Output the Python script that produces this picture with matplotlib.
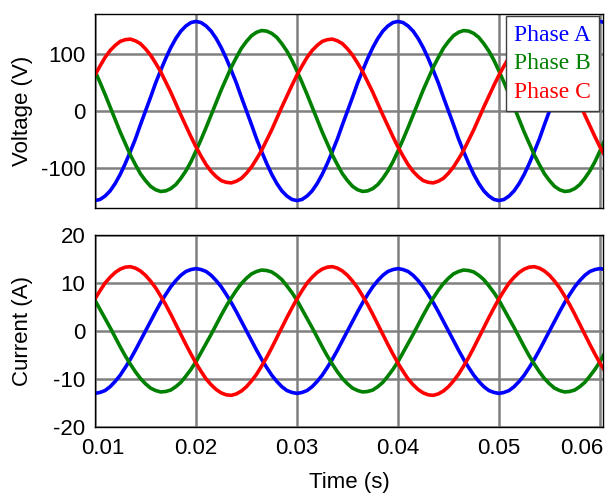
import matplotlib as mpl
mpl.use("Agg")
import matplotlib.pyplot as plt
import matplotlib.transforms as mtransforms

mpl.rcParams["font.family"] = ["Liberation Sans", "DejaVu Sans"]
mpl.rcParams["axes.unicode_minus"] = False

# time axis (s), one sample every 0.5 ms
t = [round(0.010 + 0.0005 * k, 4) for k in range(102)]

# phase voltages (V)
va = [-157, -155, -149, -140, -127, -111, -92, -71, -49, -24, 0, 24, 49, 71, 92, 111, 127, 140, 149, 155,
      157, 155, 149, 140, 127, 111, 92, 71, 49, 24, 0, -24, -49, -71, -92, -111, -127, -140, -149, -155,
      -157, -155, -149, -140, -127, -111, -92, -71, -49, -24, 0, 24, 49, 71, 92, 111, 127, 140, 149, 155,
      157, 155, 149, 140, 127, 111, 92, 71, 49, 24, 0, -24, -49, -71, -92, -111, -127, -140, -149, -155,
      -157, -155, -149, -140, -127, -111, -92, -71, -49, -24, 0, 24, 49, 71, 92, 111, 127, 140, 149, 155,
      157, 155]
vb = [70, 50, 29, 7, -15, -37, -57, -77, -94, -110, -122, -132, -138, -141, -140, -136, -129, -118, -105, -89,
      -70, -50, -29, -7, 15, 37, 57, 77, 94, 110, 122, 132, 138, 141, 140, 136, 129, 118, 105, 89,
      70, 50, 29, 7, -15, -37, -57, -77, -94, -110, -122, -132, -138, -141, -140, -136, -129, -118, -105, -89,
      -70, -50, -29, -7, 15, 37, 57, 77, 94, 110, 122, 132, 138, 141, 140, 136, 129, 118, 105, 89,
      70, 50, 29, 7, -15, -37, -57, -77, -94, -110, -122, -132, -138, -141, -140, -136, -129, -118, -105, -89,
      -70, -50]
vc = [63, 79, 94, 106, 115, 122, 125, 126, 123, 118, 109, 98, 84, 69, 51, 33, 13, -7, -26, -45,
      -63, -79, -94, -106, -115, -122, -125, -126, -123, -118, -109, -98, -84, -69, -51, -33, -13, 7, 26, 45,
      63, 79, 94, 106, 115, 122, 125, 126, 123, 118, 109, 98, 84, 69, 51, 33, 13, -7, -26, -45,
      -63, -79, -94, -106, -115, -122, -125, -126, -123, -118, -109, -98, -84, -69, -51, -33, -13, 7, 26, 45,
      63, 79, 94, 106, 115, 122, 125, 126, 123, 118, 109, 98, 84, 69, 51, 33, 13, -7, -26, -45,
      -63, -79]

# phase currents (A)
ia = [-13, -12.8, -12.4, -11.6, -10.5, -9.2, -7.6, -5.9, -4.0, -2.0, 0, 2.0, 4.0, 5.9, 7.6, 9.2, 10.5, 11.6, 12.4, 12.8,
      13, 12.8, 12.4, 11.6, 10.5, 9.2, 7.6, 5.9, 4.0, 2.0, 0, -2.0, -4.0, -5.9, -7.6, -9.2, -10.5, -11.6, -12.4, -12.8,
      -13, -12.8, -12.4, -11.6, -10.5, -9.2, -7.6, -5.9, -4.0, -2.0, 0, 2.0, 4.0, 5.9, 7.6, 9.2, 10.5, 11.6, 12.4, 12.8,
      13, 12.8, 12.4, 11.6, 10.5, 9.2, 7.6, 5.9, 4.0, 2.0, 0, -2.0, -4.0, -5.9, -7.6, -9.2, -10.5, -11.6, -12.4, -12.8,
      -13, -12.8, -12.4, -11.6, -10.5, -9.2, -7.6, -5.9, -4.0, -2.0, 0, 2.0, 4.0, 5.9, 7.6, 9.2, 10.5, 11.6, 12.4, 12.8,
      13, 12.8]
ib = [6.4, 4.5, 2.6, 0.7, -1.3, -3.3, -5.2, -6.9, -8.5, -9.9, -11.0, -11.9, -12.4, -12.7, -12.6, -12.3, -11.6, -10.7, -9.4, -8.0,
      -6.4, -4.5, -2.6, -0.7, 1.3, 3.3, 5.2, 6.9, 8.5, 9.9, 11.0, 11.9, 12.4, 12.7, 12.6, 12.3, 11.6, 10.7, 9.4, 8.0,
      6.4, 4.5, 2.6, 0.7, -1.3, -3.3, -5.2, -6.9, -8.5, -9.9, -11.0, -11.9, -12.4, -12.7, -12.6, -12.3, -11.6, -10.7, -9.4, -8.0,
      -6.4, -4.5, -2.6, -0.7, 1.3, 3.3, 5.2, 6.9, 8.5, 9.9, 11.0, 11.9, 12.4, 12.7, 12.6, 12.3, 11.6, 10.7, 9.4, 8.0,
      6.4, 4.5, 2.6, 0.7, -1.3, -3.3, -5.2, -6.9, -8.5, -9.9, -11.0, -11.9, -12.4, -12.7, -12.6, -12.3, -11.6, -10.7, -9.4, -8.0,
      -6.4, -4.5]
ic = [6.7, 8.4, 10.0, 11.2, 12.2, 12.9, 13.3, 13.4, 13.1, 12.5, 11.6, 10.4, 9.0, 7.3, 5.5, 3.5, 1.4, -0.7, -2.8, -4.8,
      -6.7, -8.4, -10.0, -11.2, -12.2, -12.9, -13.3, -13.4, -13.1, -12.5, -11.6, -10.4, -9.0, -7.3, -5.5, -3.5, -1.4, 0.7, 2.8, 4.8,
      6.7, 8.4, 10.0, 11.2, 12.2, 12.9, 13.3, 13.4, 13.1, 12.5, 11.6, 10.4, 9.0, 7.3, 5.5, 3.5, 1.4, -0.7, -2.8, -4.8,
      -6.7, -8.4, -10.0, -11.2, -12.2, -12.9, -13.3, -13.4, -13.1, -12.5, -11.6, -10.4, -9.0, -7.3, -5.5, -3.5, -1.4, 0.7, 2.8, 4.8,
      6.7, 8.4, 10.0, 11.2, 12.2, 12.9, 13.3, 13.4, 13.1, 12.5, 11.6, 10.4, 9.0, 7.3, 5.5, 3.5, 1.4, -0.7, -2.8, -4.8,
      -6.7, -8.4]

phase_names = ["Phase A", "Phase B", "Phase C"]
colors = ["#0000ff", "#008000", "#ff0000"]
xticks = [0.01, 0.02, 0.03, 0.04, 0.05, 0.06]
xticklabels = ["0.01", "0.02", "0.03", "0.04", "0.05", "0.06"]

fig = plt.figure(figsize=(6.11, 4.96), dpi=100)
W, H = 611, 496
ax1 = fig.add_axes([95 / W, 1 - 208 / H, 508 / W, 194 / H])
ax2 = fig.add_axes([95 / W, 1 - 427 / H, 508 / W, 192 / H])

FS = 16
for ax, series, ylim, yticks, ylab in [
        (ax1, [va, vb, vc], (-170, 170), [-100, 0, 100], "Voltage (V)"),
        (ax2, [ia, ib, ic], (-20, 20), [-20, -10, 0, 10, 20], "Current (A)")]:
    for y, c, name in zip(series, colors, phase_names):
        ax.plot(t, y, color=c, lw=2.6, label=name)
    ax.set_xlim(0.01, 0.0603)
    ax.set_ylim(*ylim)
    ax.set_yticks(yticks)
    ax.set_xticks(xticks)
    ax.grid(True, color="#808080", lw=1.8)
    ax.set_axisbelow(True)
    ax.tick_params(length=0, labelsize=FS, pad=7)
    ax.set_ylabel(ylab, fontsize=FS)
    ax.yaxis.set_label_coords(-0.122, 0.5)
    for s in ax.spines.values():
        s.set_color("black")
        s.set_linewidth(1.0)

ax1.set_xticklabels([])
ax2.set_xticklabels(xticklabels)
ax2.tick_params(axis="x", pad=8)
labs = ax2.get_xticklabels()
labs[0].set_transform(labs[0].get_transform() + mtransforms.ScaledTranslation(8 / 100, 0, fig.dpi_scale_trans))
labs[-1].set_transform(labs[-1].get_transform() + mtransforms.ScaledTranslation(-18 / 100, 0, fig.dpi_scale_trans))
ax2.set_xlabel("Time (s)", fontsize=FS)
ax2.xaxis.set_label_coords(0.5, -0.235)

leg = ax1.legend(loc="upper right", bbox_to_anchor=(0.992, 0.99), borderaxespad=0,
                 handlelength=0, handletextpad=0, fancybox=False, framealpha=1,
                 edgecolor="#404040", labelspacing=0.3, borderpad=0.35,
                 prop={"family": "Liberation Serif", "size": 17})
leg.get_frame().set_linewidth(1.0)
for h in leg.legend_handles:
    h.set_visible(False)
for txt, c in zip(leg.get_texts(), colors):
    txt.set_color(c)

fig.savefig("out.png", dpi=100)
